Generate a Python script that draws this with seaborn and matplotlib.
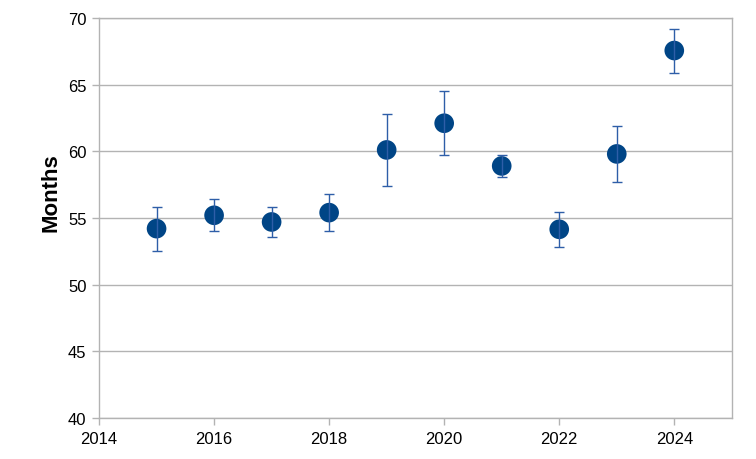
import numpy as np
import pandas as pd
import seaborn as sns
import matplotlib.pyplot as plt

# values
years = [2015, 2016, 2017, 2018, 2019, 2020, 2021, 2022, 2023, 2024]
months = [54.2, 55.2, 54.7, 55.4, 60.1, 62.1, 58.9, 54.15, 59.8, 67.55]
err_high = [55.8, 56.4, 55.8, 56.8, 62.8, 64.5, 59.7, 55.45, 61.9, 69.2]
err_low = [52.5, 54.0, 53.6, 54.0, 57.4, 59.7, 58.1, 52.8, 57.7, 65.9]

df = pd.DataFrame({"Year": years, "Months": months})

sns.set_style("white")
plt.rcParams['font.family'] = ['Liberation Sans', 'DejaVu Sans']
plt.rcParams['text.color'] = 'black'
plt.rcParams['axes.labelcolor'] = 'black'

fig = plt.figure(figsize=(7.56, 4.6), dpi=100)
ax = fig.add_axes([0.131, 0.089, 0.837, 0.870])

sns.scatterplot(data=df, x="Year", y="Months", ax=ax, s=200, color="#004586",
                edgecolor="none", zorder=3, legend=False)

# error bars drawn over the dots, like the original
yerr = [np.array(months) - np.array(err_low), np.array(err_high) - np.array(months)]
ax.errorbar(years, months, yerr=yerr, fmt="none", ecolor="#2e5ea8",
            elinewidth=1.0, capsize=3.5, capthick=1.0, zorder=4)

ax.set_xlim(2014, 2025)
ax.set_ylim(40, 70)
ax.set_xticks(range(2014, 2025, 2))
ax.set_yticks(range(40, 71, 5))
ax.yaxis.grid(True, color="#b3b3b3", linewidth=1)
ax.xaxis.grid(False)
for sp in ax.spines.values():
    sp.set_color("#b3b3b3")
    sp.set_linewidth(1)
ax.tick_params(axis="both", which="both", length=5, width=1, color="#b3b3b3",
               labelsize=12, labelcolor="black", direction="out", pad=4)
ax.tick_params(axis="x", bottom=True)
ax.tick_params(axis="y", left=True)
ax.set_xlabel("")
ax.set_ylabel("Months", fontsize=16, fontweight="bold", color="black")
ax.yaxis.set_label_coords(-0.059, 0.565)

fig.savefig("out.png", dpi=100)
